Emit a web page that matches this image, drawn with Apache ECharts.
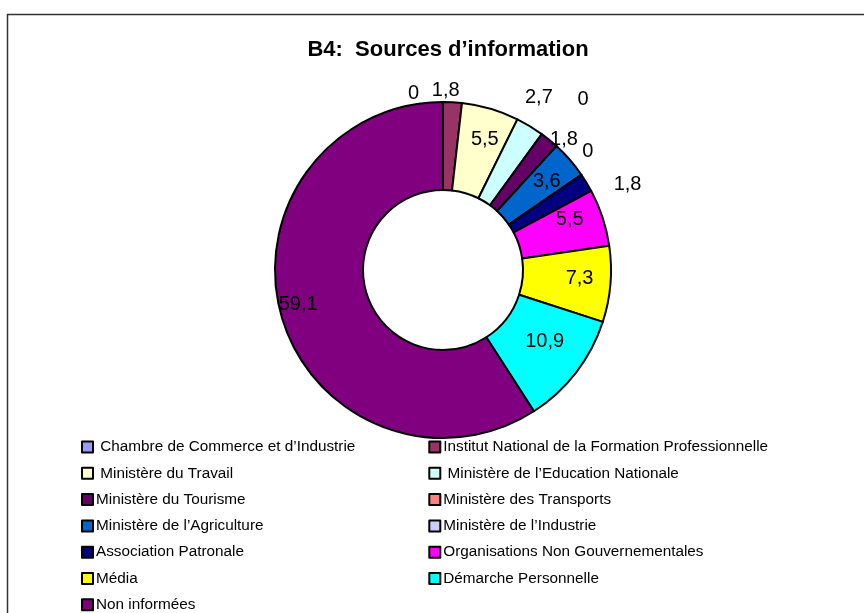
<!DOCTYPE html>
<html><head><meta charset="utf-8">
<script src="https://cdn.jsdelivr.net/npm/echarts@6/dist/echarts.min.js"></script>
<style>html,body{margin:0;padding:0;background:#fff}#c{width:864px;height:613px}</style>
</head><body><div id="c"></div>
<script>
// ---- data ----
const categories = [
  " Chambre de Commerce et d\u2019Industrie",
  "Institut National de la Formation Professionnelle",
  " Ministère du Travail",
  " Ministère de l\u2019Education Nationale",
  "Ministère du Tourisme",
  "Ministère des Transports",
  "Ministère de l\u2019Agriculture",
  "Ministère de l\u2019Industrie",
  "Association Patronale",
  "Organisations Non Gouvernementales",
  "Média",
  "Démarche Personnelle",
  "Non informées"
];
const values = [0, 1.8, 5.5, 2.7, 1.8, 0, 3.6, 0, 1.8, 5.5, 7.3, 10.9, 59.1];

// ---- styling ----
const colors = ["#9999FF","#993366","#FFFFCC","#CCFFFF","#660066","#FF8080","#0066CC","#CCCCFF","#000080","#FF00FF","#FFFF00","#00FFFF","#800080"];
const insideLabel = [false,false,true,false,false,false,true,false,false,true,true,true,true];
// small label nudges (px) mimicking the original "best fit" label placement
const labelNudge = [[-19,-3],[-26,-6],[6,-9],[-13,-24],[-8,4],[12,-42],[8,-5],[-9,-20],[17,5],[6,-11],[10,-2],[1,-6],[-23,-1]];

const chart = echarts.init(document.getElementById('c'));
const data = categories.map((n,i)=>({
  name: n, value: values[i],
  itemStyle: {color: colors[i]},
  label: {position: insideLabel[i] ? 'inside' : 'outside', offset: labelNudge[i]}
}));
chart.setOption({
  animation: false,
  title: {
    text: 'B4:  Sources d\u2019information',
    left: 443, top: 34, textAlign: 'center',
    textStyle: {fontFamily: 'Liberation Sans, Arial', fontSize: 22, fontWeight: 'bold', color: '#000'}
  },
  graphic: [{
    type: 'rect', shape: {x: 7.5, y: 14.5, width: 900, height: 700},
    style: {fill: 'none', stroke: '#333', lineWidth: 1.5}, silent: true
  }],
  legend: {
    left: 81, top: 438, width: 720, padding: 0,
    orient: 'horizontal',
    icon: 'rect', itemWidth: 11, itemHeight: 11, itemGap: 8.3,
    itemStyle: {borderColor: '#000', borderWidth: 2},
    textStyle: {fontFamily: 'Liberation Sans, Arial', fontSize: 15.3, color: '#000', width: 324, lineHeight: 18, padding: [0,0,0,-2]},
    data: categories
  },
  series: [{
    type: 'pie',
    center: [443, 270],
    radius: [80, 168],
    startAngle: 90,
    clockwise: true,
    avoidLabelOverlap: false,
    stillShowZeroSum: true,
    itemStyle: {borderColor: '#000', borderWidth: 2},
    label: {
      formatter: p => String(p.value).replace('.', ','),
      fontFamily: 'Liberation Sans, Arial', fontSize: 20, color: '#000'
    },
    labelLine: {show: false, length: 6, length2: 0},
    labelLayout: {hideOverlap: false},
    emphasis: {disabled: true},
    data: data
  }]
});
</script></body></html>
